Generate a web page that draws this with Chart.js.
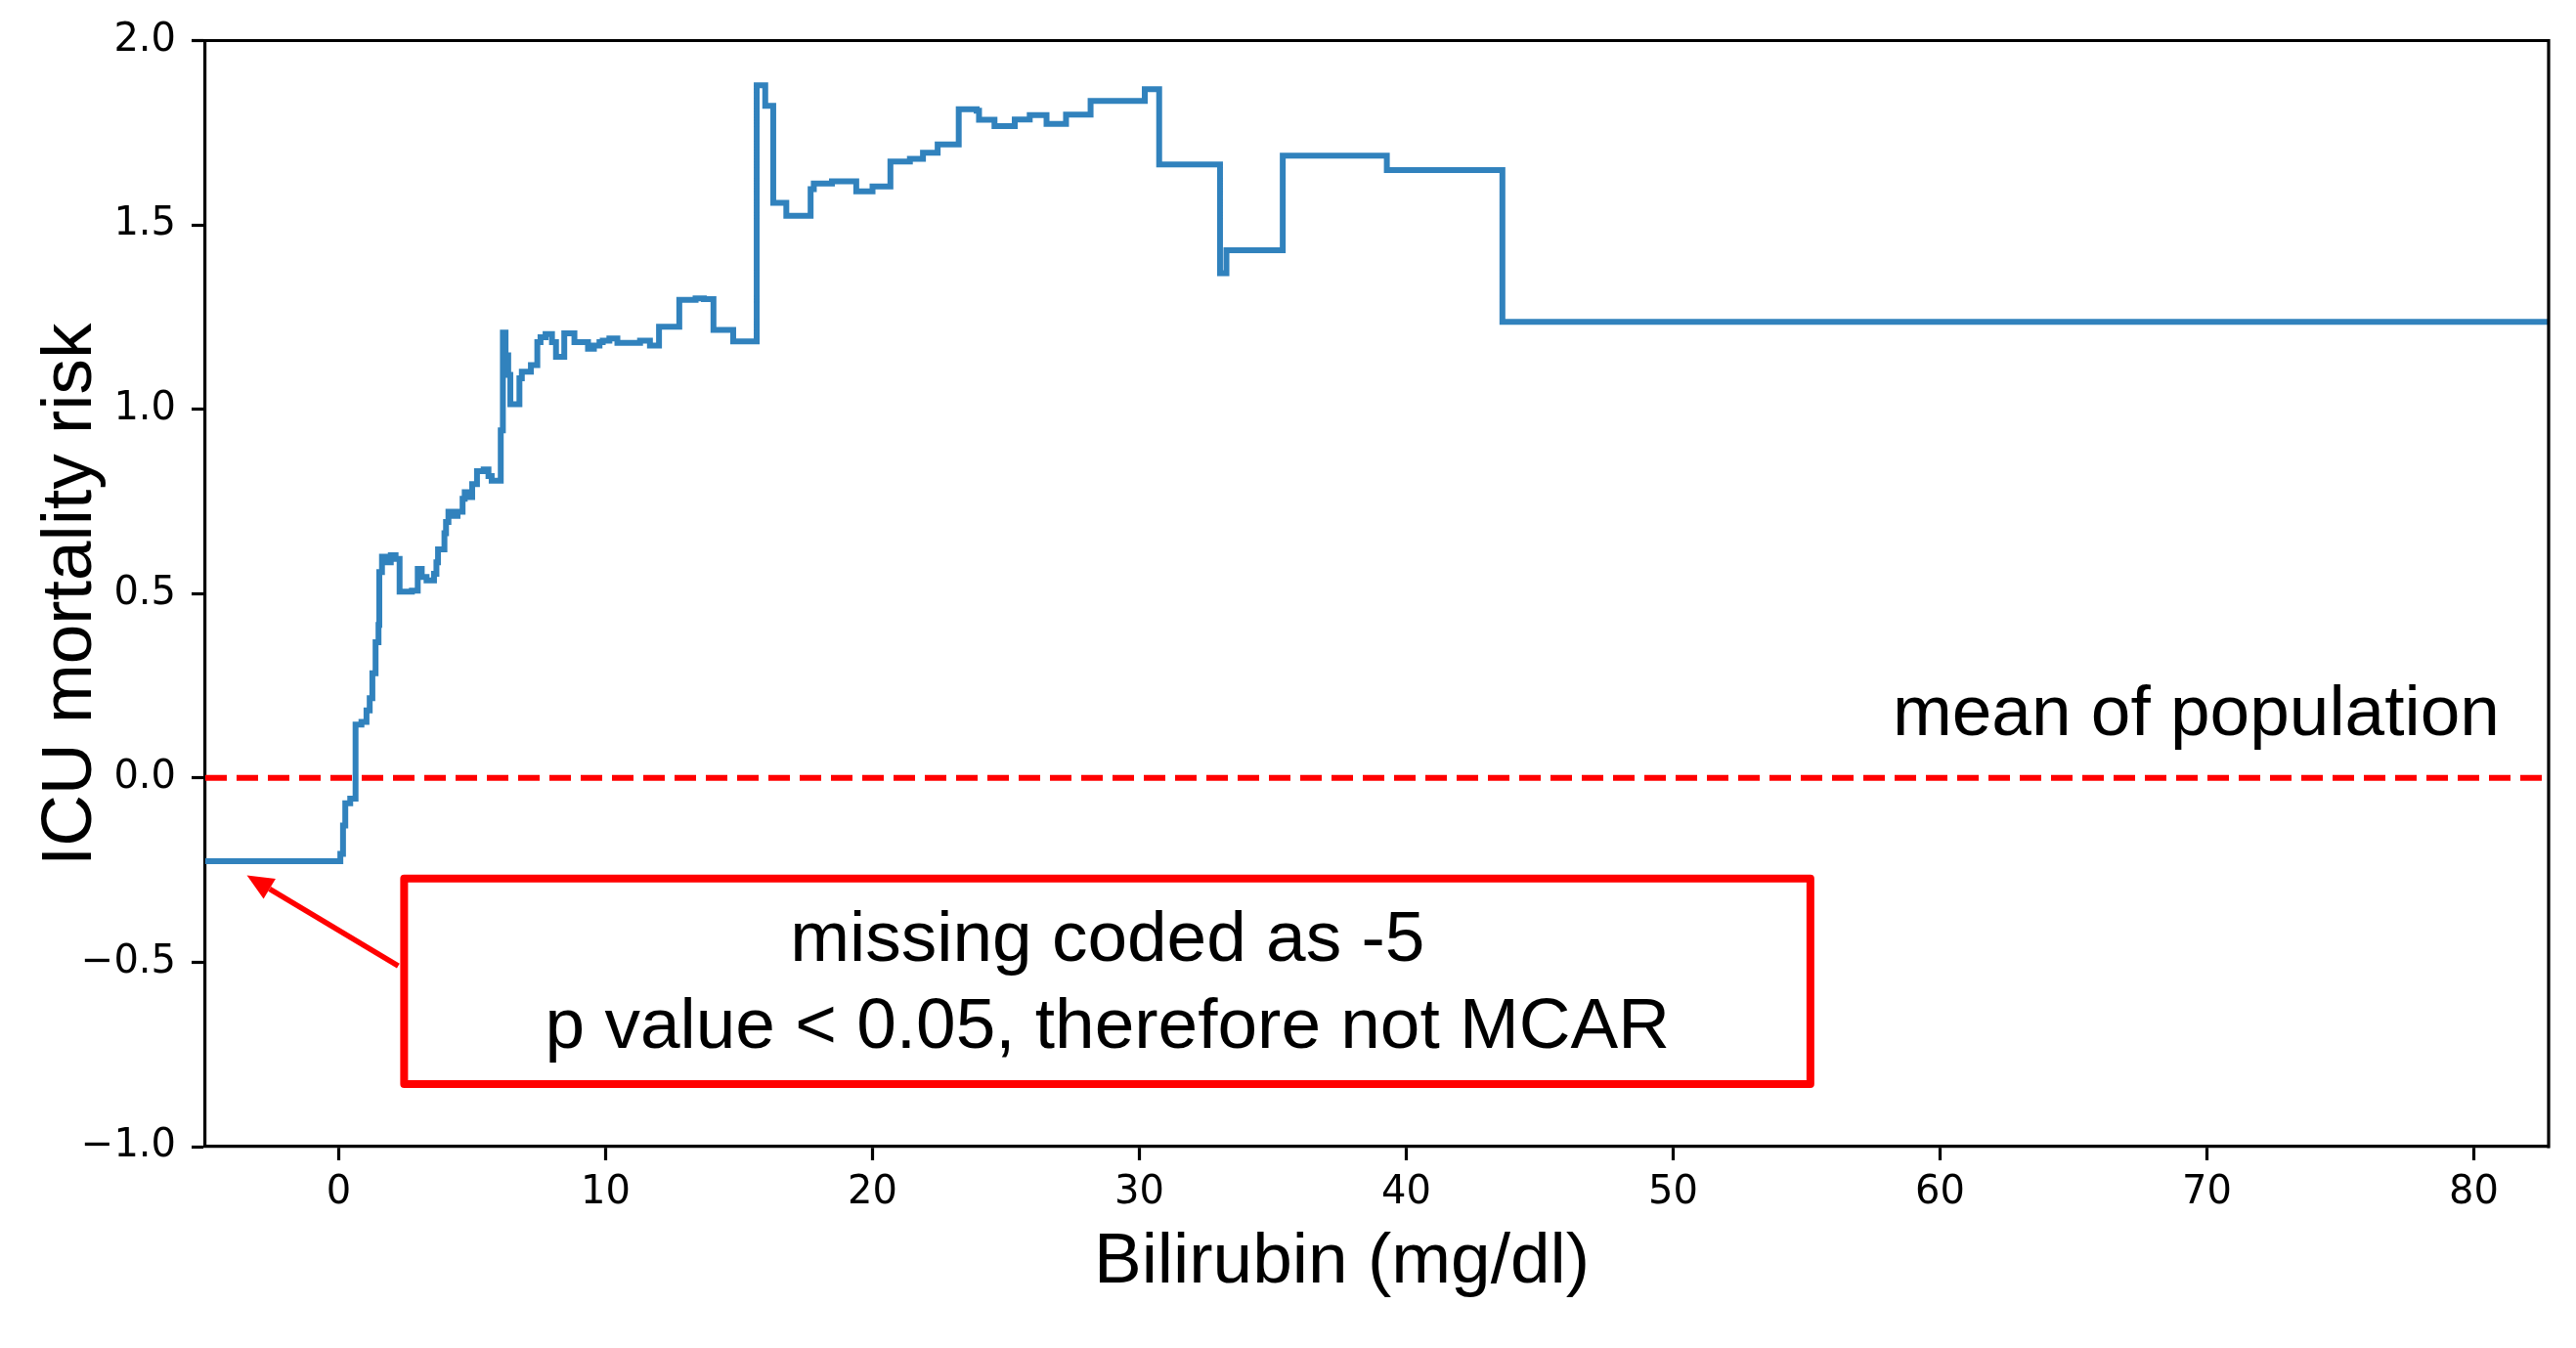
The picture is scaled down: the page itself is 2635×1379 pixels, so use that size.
<!DOCTYPE html>
<html><head><meta charset="utf-8">
<script src="https://cdn.jsdelivr.net/npm/chart.js@4.4.1/dist/chart.umd.min.js"></script>
<style>html,body{margin:0;padding:0;background:#fff;overflow:hidden}canvas{display:block}</style>
</head><body>
<canvas id="c" width="2635" height="1379" style="width:2635px;height:1379px"></canvas>
<script>
// ---- data (step function: risk holds from each bilirubin breakpoint to the next) ----
const bilirubin = [
  -5, 0.06, 0.16, 0.245, 0.43, 0.63, 0.85, 1.04, 1.16, 1.26, 1.38, 1.49, 1.52, 1.62, 1.75, 1.95, 2.13, 2.28,
  2.74, 2.96, 3.11, 3.29, 3.57, 3.66, 3.72, 3.96, 4.02, 4.11, 4.33, 4.45, 4.64, 4.72, 4.94, 5.0, 5.18, 5.43,
  5.61, 5.73, 6.07, 6.15, 6.25, 6.35, 6.43, 6.77, 6.86, 7.2, 7.44, 7.56, 7.75, 7.99, 8.14, 8.45, 8.83, 9.34,
  9.56, 9.77, 9.89, 10.14, 10.44, 11.29, 11.66, 12.0, 12.76, 13.37, 13.68, 14.04, 14.78, 15.66, 15.98, 16.28,
  16.77, 17.68, 17.8, 18.48, 19.39, 20.0, 20.67, 21.4, 21.89, 22.44, 23.23, 23.9, 23.99, 24.57, 25.33, 25.89,
  26.52, 27.25, 28.17, 30.2, 30.74, 33.02, 33.26, 35.37, 39.27, 43.6, 82.8
];
const risk = [
  -0.226, -0.206, -0.129, -0.069, -0.056, 0.145, 0.152, 0.183, 0.216, 0.284, 0.368, 0.415, 0.558, 0.600, 0.585, 0.604, 0.594, 0.505,
  0.508, 0.567, 0.545, 0.536, 0.554, 0.585, 0.620, 0.664, 0.694, 0.722, 0.711, 0.722, 0.757, 0.775, 0.762, 0.797, 0.832, 0.837,
  0.819, 0.806, 0.943, 1.208, 1.146, 1.093, 1.014, 1.084, 1.102, 1.120, 1.182, 1.195, 1.204, 1.182, 1.142, 1.206, 1.182, 1.164,
  1.173, 1.182, 1.186, 1.192, 1.180, 1.186, 1.173, 1.224, 1.297, 1.301, 1.299, 1.215, 1.184, 1.879, 1.823, 1.560,
  1.525, 1.597, 1.612, 1.618, 1.591, 1.604, 1.672, 1.679, 1.696, 1.718, 1.814, 1.810, 1.785, 1.768, 1.786, 1.798,
  1.774, 1.799, 1.836, 1.868, 1.664, 1.369, 1.431, 1.688, 1.649, 1.237, 1.237
];
const meanLevel = 0;
const xRange = [-5, 82.8];
const yRange = [-1, 2];
const xTicks = [0, 10, 20, 30, 40, 50, 60, 70, 80];
const yTicks = [-1, -0.5, 0, 0.5, 1, 1.5, 2];
const yTickLabels = ['\u22121.0', '\u22120.5', '0.0', '0.5', '1.0', '1.5', '2.0'];
const xTitle = 'Bilirubin (mg/dl)';
const yTitle = 'ICU mortality risk';
const noteLines = ['missing coded as -5', 'p value < 0.05, therefore not MCAR'];
const meanLabel = 'mean of population';

// annotation anchors in data coordinates
const noteBox = {x0: 2.45, x1: 55.14, yTop: -0.273, yBot: -0.830};
const noteTextX = 28.8, noteBaselines = [-0.497, -0.733];
const arrowTip = {x: -3.44, y: -0.264}, arrowTail = {x: 2.23, y: -0.51};
const meanLabelPos = {x: 58.22, y: 0.116};

const BLUE = '#3182bd', RED = '#ff0000';
const TEXT_FONT = '73px "Liberation Sans", Arial, sans-serif';

const overlay = {
  id: 'overlay',
  afterDraw(chart) {
    const {ctx, chartArea: a, scales: {x, y}} = chart;
    ctx.save();
    // top and right spines
    ctx.strokeStyle = '#000'; ctx.lineWidth = 3.2; ctx.lineCap = 'square';
    ctx.beginPath(); ctx.moveTo(a.left, a.top); ctx.lineTo(a.right, a.top); ctx.lineTo(a.right, a.bottom); ctx.stroke();

    // note box
    const bx0 = x.getPixelForValue(noteBox.x0), bx1 = x.getPixelForValue(noteBox.x1);
    const by0 = y.getPixelForValue(noteBox.yTop), by1 = y.getPixelForValue(noteBox.yBot);
    ctx.strokeStyle = RED; ctx.lineWidth = 8; ctx.lineJoin = 'round';
    ctx.strokeRect(bx0, by0, bx1 - bx0, by1 - by0);

    // note text
    ctx.fillStyle = '#000'; ctx.font = TEXT_FONT; ctx.textAlign = 'center'; ctx.textBaseline = 'alphabetic';
    noteLines.forEach((t, i) => ctx.fillText(t, x.getPixelForValue(noteTextX), y.getPixelForValue(noteBaselines[i])));

    // arrow
    const tx = x.getPixelForValue(arrowTip.x), ty = y.getPixelForValue(arrowTip.y);
    const sx = x.getPixelForValue(arrowTail.x), sy = y.getPixelForValue(arrowTail.y);
    const ang = Math.atan2(ty - sy, tx - sx), hl = 27, hw = 12;
    const bxp = tx - hl * Math.cos(ang), byp = ty - hl * Math.sin(ang);
    ctx.strokeStyle = RED; ctx.fillStyle = RED; ctx.lineWidth = 5.5; ctx.lineCap = 'butt';
    ctx.beginPath(); ctx.moveTo(sx, sy); ctx.lineTo(bxp, byp); ctx.stroke();
    ctx.beginPath();
    ctx.moveTo(tx, ty);
    ctx.lineTo(bxp + hw * Math.sin(ang), byp - hw * Math.cos(ang));
    ctx.lineTo(bxp - hw * Math.sin(ang), byp + hw * Math.cos(ang));
    ctx.closePath(); ctx.fill();

    // mean label
    ctx.fillStyle = '#000'; ctx.textAlign = 'left';
    ctx.fillText(meanLabel, x.getPixelForValue(meanLabelPos.x), y.getPixelForValue(meanLabelPos.y));

    // axis titles
    ctx.textAlign = 'center';
    ctx.fillText(xTitle, 1372.5, 1311.5);
    ctx.save();
    ctx.translate(93, (a.top + a.bottom) / 2 + 1);
    ctx.rotate(-Math.PI / 2);
    ctx.fillText(yTitle, 0, 0);
    ctx.restore();
    ctx.restore();
  }
};

const tickFont = {family: '"DejaVu Sans", sans-serif', size: 40};
new Chart(document.getElementById('c'), {
  type: 'line',
  data: {
    datasets: [
      {
        label: 'risk',
        data: bilirubin.map((b, i) => ({x: b, y: risk[i]})),
        stepped: 'before',
        borderColor: BLUE, borderWidth: 6, pointRadius: 0, fill: false, order: 0,
        borderJoinStyle: 'miter'
      },
      {
        label: 'mean',
        data: [{x: xRange[0], y: meanLevel}, {x: xRange[1], y: meanLevel}],
        borderColor: RED, borderWidth: 6, borderDash: [22, 10], pointRadius: 0, fill: false, order: 1
      }
    ]
  },
  options: {
    responsive: false, animation: false, devicePixelRatio: 1,
    layout: {padding: {left: 0, top: 41.5, right: 28, bottom: 0}},
    plugins: {legend: {display: false}, tooltip: {enabled: false}},
    scales: {
      x: {
        type: 'linear', min: xRange[0], max: xRange[1],
        afterBuildTicks: s => { s.ticks = xTicks.map(v => ({value: v})); },
        afterFit: s => { s.height = 206; },
        ticks: {font: tickFont, color: '#000', padding: 10, maxRotation: 0, autoSkip: false,
                callback: v => String(v)},
        grid: {drawOnChartArea: false, drawTicks: true, tickLength: 14, tickWidth: 3.2, tickColor: '#000'},
        border: {display: true, color: '#000', width: 3.2}
      },
      y: {
        type: 'linear', min: yRange[0], max: yRange[1],
        afterBuildTicks: s => { s.ticks = yTicks.map(v => ({value: v})); },
        afterFit: s => { s.width = 210; },
        ticks: {font: tickFont, color: '#000', padding: 16, autoSkip: false,
                callback: v => yTickLabels[yTicks.indexOf(v)]},
        grid: {drawOnChartArea: false, drawTicks: true, tickLength: 14, tickWidth: 3.2, tickColor: '#000'},
        border: {display: true, color: '#000', width: 3.2}
      }
    }
  },
  plugins: [overlay]
});
</script>
</body></html>
